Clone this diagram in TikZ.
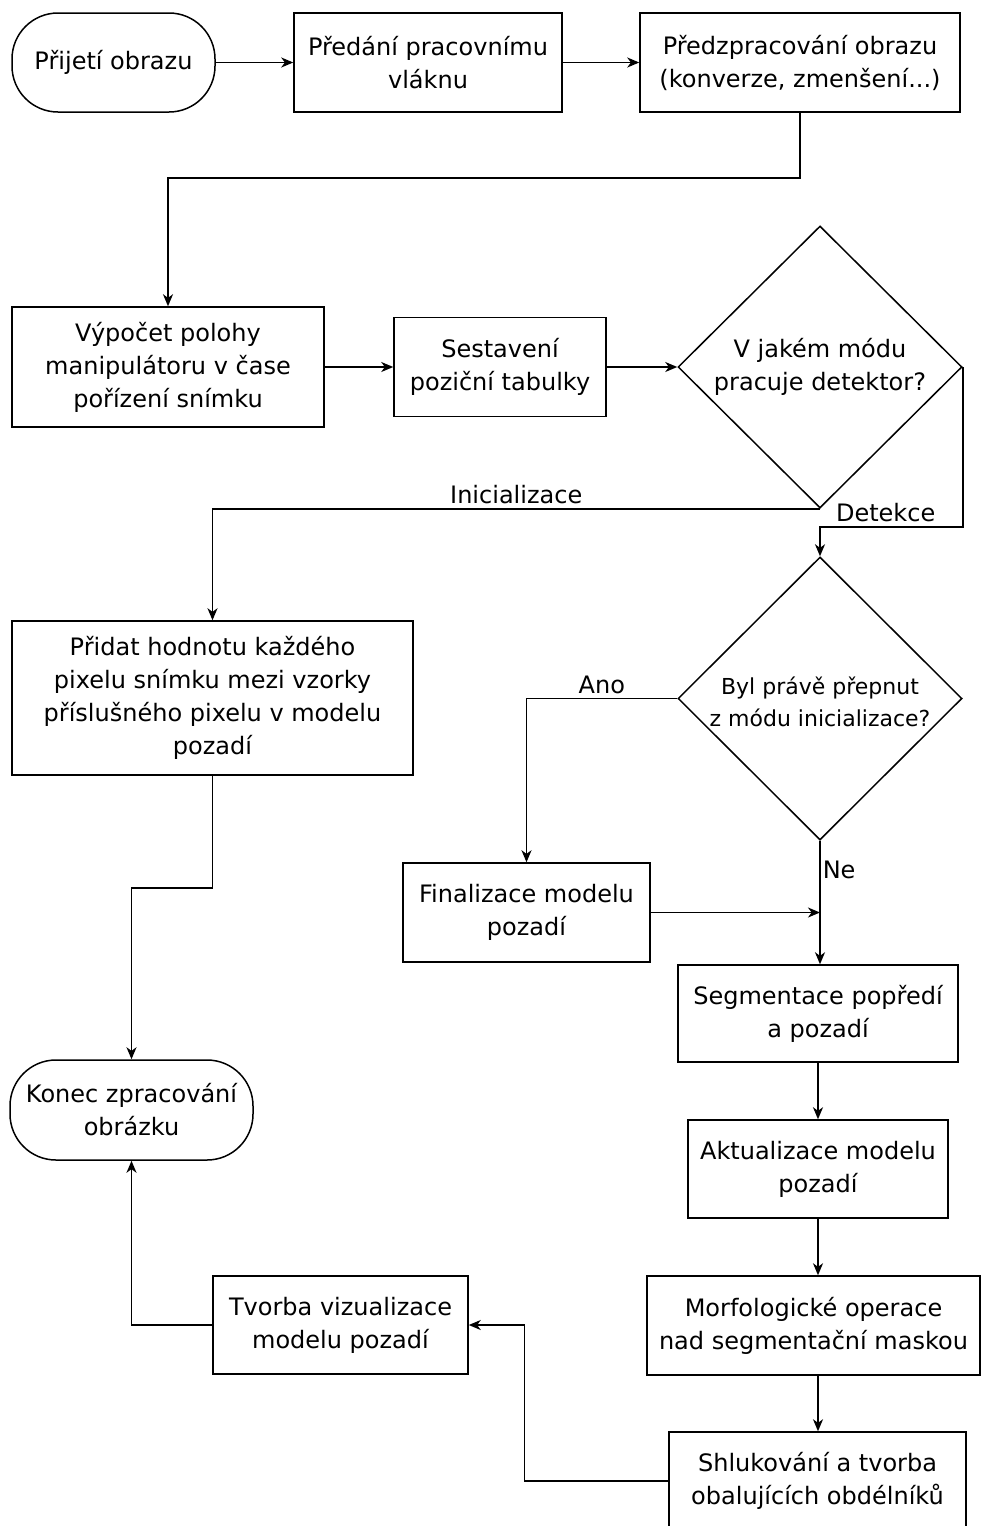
\documentclass[tikz,border=0pt]{standalone}
\usepackage{fontspec}
\setmainfont{DejaVu Sans}
\usetikzlibrary{arrows.meta,shapes.geometric}
\begin{document}
\begin{tikzpicture}[x=0.5pt,y=-0.5pt,
  every node/.style={font=\fontsize{12}{16.5}\selectfont},
  box/.style={draw,line width=0.75pt,align=center,inner sep=0pt},
  term/.style={box,rounded corners=23pt},
  dia/.style={draw,line width=0.75pt,shape=diamond,inner sep=0pt},
  conn/.style={line width=0.75pt},
  arr/.style={conn,-{Stealth[length=6pt,width=5pt,inset=1.8pt]}},
  lbl/.style={inner sep=2pt}]
\useasboundingbox (0,0) rectangle (982,1526);

\node[term,minimum width=101.5pt,minimum height=49.5pt] (t1) at (113.5,62.5) {Přijetí obrazu};
\node[box,minimum width=134pt,minimum height=49.5pt] (b2) at (428,62.5) {Předání pracovnímu\\vláknu};
\node[box,minimum width=160pt,minimum height=49.5pt] (b3) at (800,62.5) {Předzpracování obrazu\\(konverze, zmenšení...)};
\node[box,minimum width=156pt,minimum height=60pt] (b4) at (168,367) {Výpočet polohy\\manipulátoru v čase\\pořízení snímku};
\node[box,minimum width=106pt,minimum height=49.5pt] (b5) at (500,367) {Sestavení\\poziční tabulky};
\node[dia,minimum width=142pt,minimum height=141pt] (d1) at (820,367) {};
\node[align=center] (d1t) at (820,367) {V jakém módu\\pracuje detektor?};
\node[box,minimum width=200.5pt,minimum height=77pt] (b7) at (212.5,698) {Přidat hodnotu každého\\pixelu snímku mezi vzorky\\příslušného pixelu v modelu\\pozadí};
\node[dia,minimum width=142pt,minimum height=141.5pt] (d2) at (820,698.5) {};
\node[align=center,font=\fontsize{11}{16}\selectfont] (d2t) at (820,702) {Byl právě přepnut\\z módu inicializace?};
\node[box,minimum width=123.5pt,minimum height=49.5pt] (b9) at (526.5,912.5) {Finalizace modelu\\pozadí};
\node[box,minimum width=140pt,minimum height=48.5pt] (b10) at (818,1013.5) {Segmentace popředí\\a pozadí};
\node[box,minimum width=130pt,minimum height=49pt] (b11) at (818,1169) {Aktualizace modelu\\pozadí};
\node[box,minimum width=166.5pt,minimum height=49.5pt] (b12) at (813.5,1325.5) {Morfologické operace\\nad segmentační maskou};
\node[box,minimum width=148.5pt,minimum height=49pt] (b13) at (817.5,1481) {Shlukování a tvorba\\obalujících obdélníků};
\node[box,minimum width=127.5pt,minimum height=49pt] (b14) at (340.5,1325) {Tvorba vizualizace\\modelu pozadí};
\node[term,minimum width=121.5pt,minimum height=50pt] (t2) at (131.5,1110) {Konec zpracování\\obrázku};

\coordinate (j1) at (820,912.5);

\draw[arr] (t1.east) -- (b2.west);
\draw[arr] (b2.east) -- (b3.west);
\draw[arr] (b3.south) -- ++(0,65) -| (b4.north);
\draw[arr] (b4.east) -- (b5.west);
\draw[arr] (b5.east) -- (d1.west);
\draw[arr] (d1.south) -| (b7.north) node[lbl,above,pos=0.25] {Inicializace};
\draw[arr] (d1.east) -- ++(0,160) -| (d2.north) node[lbl,above,pos=0.27] {Detekce};
\draw[arr] (d2.west) -| (b9.north) node[lbl,above,pos=0.25] {Ano};
\draw[arr] (d2.south) -- (d2.south |- b10.north) node[lbl,right,pos=0.24,inner sep=1pt] {Ne};
\draw[arr] (b9.east) -- (j1);
\draw[arr] (b10.south) -- (b11.north);
\draw[arr] (b11.south) -- (b11.south |- b12.north);
\draw[arr] (b11.south |- b12.south) -- (b11.south |- b13.north);
\draw[arr] (b13.west) -- ++(-144,0) |- (b14.east);
\draw[arr] (b14.west) -| (t2.south);
\draw[arr] (b7.south) -- ++(0,112) -| (t2.north);
\end{tikzpicture}
\end{document}
